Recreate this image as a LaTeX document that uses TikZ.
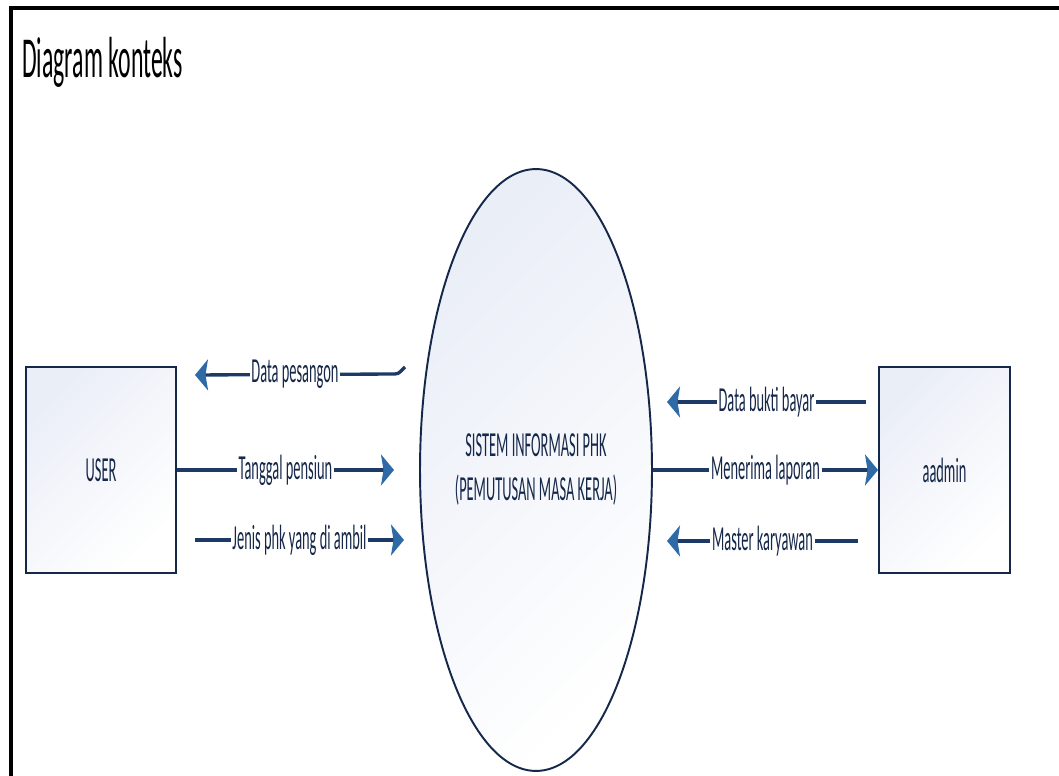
\documentclass[tikz,border=0pt]{standalone}
\usepackage{fontspec}
\setmainfont[FakeStretch=0.41]{Carlito}
\usetikzlibrary{arrows.meta,shapes.geometric}
\definecolor{navy}{HTML}{16284A}
\definecolor{linenavy}{HTML}{1D3A66}
\definecolor{headblue}{HTML}{2E6BA6}
\definecolor{bfill}{HTML}{EAEEF7}

\begin{document}
\begin{tikzpicture}[x=0.02cm, y=-0.02cm]
    \useasboundingbox (0,0) rectangle (1059,776);
    \draw[line width=2.3pt] (1075,8) -| (11,790);
    \node[anchor=base west, inner sep=0pt, font=\fontsize{33}{40}\selectfont] (T) at (22,78) {Diagram konteks};

    \begin{scope}[every node/.style={draw=navy, line width=1.1pt, text=navy, font=\fontsize{20}{25}\selectfont, top color=bfill, bottom color=white, shading angle=45}]
        \node[minimum width=3cm, minimum height=4.12cm] (E_1) at (101,470) {USER};
        \node[minimum width=2.62cm, minimum height=4.12cm] (E_2) at (944.5,470) {aadmin};
        \node[ellipse, inner sep=0pt, minimum width=4.64cm, minimum height=12.04cm, align=center] (P) at (536,470) {SISTEM INFORMASI PHK\\(PEMUTUSAN MASA KERJA)};
    \end{scope}

    \coordinate (C_1) at (195,375);
    \coordinate (C_2) at (395,374);
    \coordinate (C_3) at (405,367);
    \coordinate (C_4) at (394,470);
    \coordinate (C_5) at (195,540);
    \coordinate (C_6) at (404,540);
    \coordinate (C_7) at (667,402);
    \coordinate (C_8) at (866,402);
    \coordinate (C_9) at (667,541);
    \coordinate (C_10) at (858,541);

    \begin{scope}[line width=1.9pt, draw=linenavy,
            >={Stealth[length=0.26cm, width=0.62cm, inset=0.05cm, color=headblue]},
            every node/.style={fill=white, inner sep=1pt, text=navy, font=\fontsize{20}{25}\selectfont}]
        \draw[<-] (C_1) -- node {Data pesangon} (C_2) to[out=0, in=-140] (C_3);
        \draw[->] (E_1.east) -- node {Tanggal pensiun} (C_4);
        \draw[->] (C_5) -- node {Jenis phk yang di ambil} (C_6);
        \draw[<-] (C_7) -- node {Data bukti bayar} (C_8);
        \draw[->] (P.east) -- node {Menerima laporan} (E_2.west);
        \draw[<-] (C_9) -- node {Master karyawan} (C_10);
    \end{scope}
\end{tikzpicture}
\end{document}
